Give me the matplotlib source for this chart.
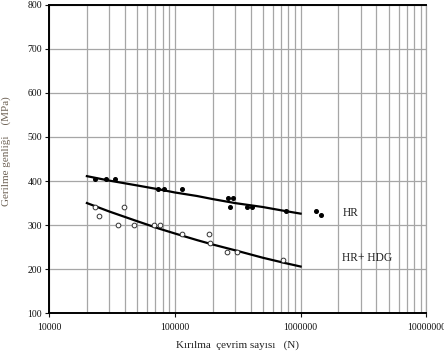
import matplotlib
matplotlib.use("Agg")
import matplotlib.pyplot as plt
from matplotlib.ticker import LogLocator, FixedLocator, NullFormatter

# Data
hr_n = [23200, 28400, 33500, 73100, 81600, 114000, 265000, 289000, 273000,
        377000, 413000, 771000, 1320000, 1450000]
hr_s = [404, 404, 404, 382, 382, 382, 362, 362, 342, 342, 342, 332, 332, 322]

hdg_n = [23200, 25100, 35600, 39200, 47100, 68000, 76700, 115000, 186000,
         189000, 260000, 310000, 728000]
hdg_s = [340, 320, 300, 340, 300, 300, 300, 280, 280, 260, 240, 240, 220]

# Trend lines
fit_n = [20000, 30000, 50000, 75000, 100000, 150000, 200000, 300000, 500000, 750000, 1000000]
hr_fit = [411, 401, 390, 381, 374, 366, 359, 350, 341, 332, 326]
hdg_fit = [350, 331, 309, 292, 281, 266, 256, 243, 226, 214, 206]

xticks = [10000, 100000, 1000000, 10000000]
xticklabels = ["10000", "100000", "1000000", "10000000"]
yticks = [100, 200, 300, 400, 500, 600, 700, 800]

plt.rcParams['font.family'] = ['Liberation Serif', 'DejaVu Serif']

fig = plt.figure(figsize=(4.44, 3.56), dpi=100)
ax = fig.add_axes([0.1104, 0.120, 0.850, 0.867])

ax.set_xscale('log')
ax.set_xlim(10000, 10000000)
ax.set_ylim(100, 800)

grid_c = '#a6a6a6'
ax.xaxis.set_major_locator(FixedLocator(xticks))
ax.xaxis.set_minor_locator(LogLocator(base=10, subs=range(2, 10)))
ax.xaxis.set_minor_formatter(NullFormatter())
ax.set_xticks(xticks)
ax.set_xticklabels(xticklabels)
ax.set_yticks(yticks)
ax.grid(True, which='both', axis='x', color=grid_c, lw=0.9)
ax.grid(True, which='major', axis='y', color=grid_c, lw=0.9)
ax.set_axisbelow(True)

ax.tick_params(axis='x', which='minor', length=0)
ax.tick_params(axis='both', which='major', labelsize=7, length=3, width=0.8,
               colors='#111111', direction='out', pad=2)
ax.tick_params(axis='x', which='major', pad=4)

for s in ['left', 'bottom', 'top']:
    ax.spines[s].set_linewidth(1.4)
    ax.spines[s].set_color('black')
ax.spines['right'].set_color(grid_c)
ax.spines['right'].set_linewidth(0.9)

ax.plot(fit_n, hr_fit, color='black', lw=1.6, zorder=3)
ax.plot(fit_n, hdg_fit, color='black', lw=1.6, zorder=3)

ax.plot(hr_n, hr_s, 'o', color='black', ms=2.6, zorder=4, ls='none')
ax.plot(hdg_n, hdg_s, 'o', mfc='white', mec='#333333', mew=0.7, ms=3.4, zorder=4, ls='none')

ax.text(2150000, 327, 'HR', fontsize=8.3, va='center', ha='left', color='#222222')
ax.text(2150000, 226, 'HR+ HDG', fontsize=8.3, va='center', ha='left', color='#222222')

ax.set_xlabel('Kırılma  çevrim sayısı   (N)', fontsize=8, color='#222222', labelpad=6)
ax.set_ylabel('Gerilme genliği    (MPa)', fontsize=8, color='#6e6255')
ax.yaxis.set_label_coords(-0.10, 0.525)

fig.savefig('out.png', dpi=100)
